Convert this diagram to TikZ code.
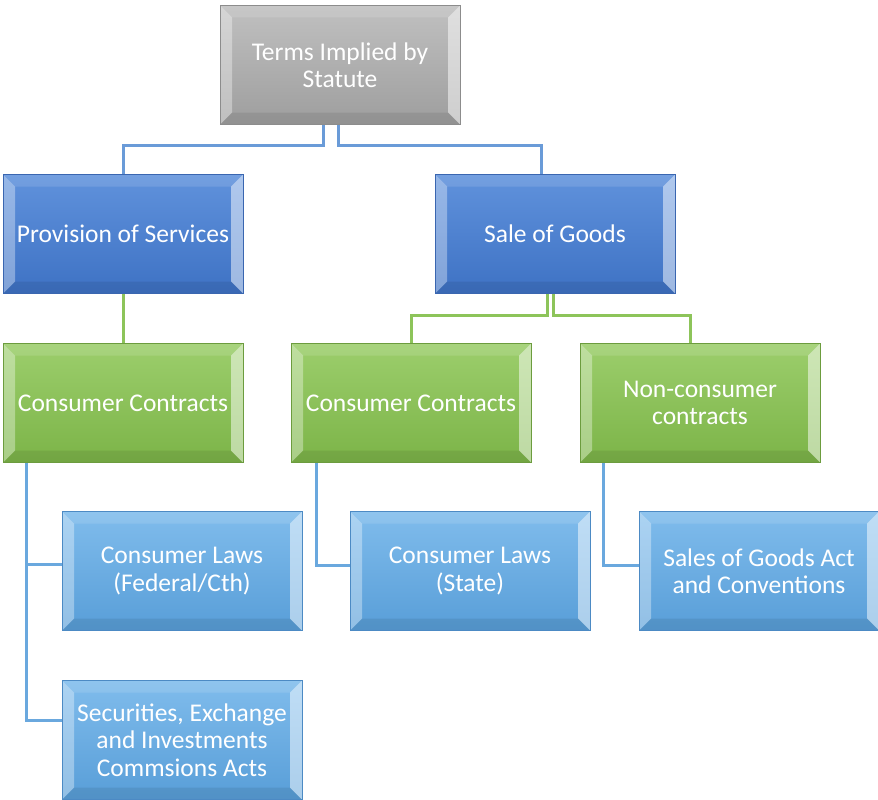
\documentclass[tikz,border=0pt]{standalone}
\usepackage{fontspec}
\setmainfont{Carlito}
\usetikzlibrary{positioning, calc}
\definecolor{TISGrayTop}{RGB}{192, 192, 192}
\definecolor{TISGrayBot}{RGB}{158, 158, 158}
\definecolor{TISGrayEdge}{RGB}{140, 140, 140}
\definecolor{TISBlueTop}{RGB}{96, 146, 220}
\definecolor{TISBlueBot}{RGB}{62, 114, 196}
\definecolor{TISBlueEdge}{RGB}{58, 102, 176}
\definecolor{TISGreenTop}{RGB}{156, 206, 108}
\definecolor{TISGreenBot}{RGB}{124, 180, 72}
\definecolor{TISGreenEdge}{RGB}{108, 156, 62}
\definecolor{TISSkyTop}{RGB}{128, 188, 236}
\definecolor{TISSkyBot}{RGB}{88, 158, 216}
\definecolor{TISSkyEdge}{RGB}{76, 138, 196}
\definecolor{TISLinkBlue}{RGB}{106, 155, 216}
\definecolor{TISLinkGreen}{RGB}{141, 196, 90}
\definecolor{TISLinkSky}{RGB}{106, 168, 222}

\begin{document}
\begin{tikzpicture}[x=1pt, y=-1pt,
    bevelbox/.style={rectangle, minimum width=240pt, minimum height=119pt,
      align=center, inner sep=0pt, text=white,
      font=\fontsize{25.5}{27.5}\selectfont, line width=0.8pt,
      path picture={
        \fill[white, opacity=.35] (path picture bounding box.north west) -- ++(12,12)
          -- ($(path picture bounding box.south west)+(12,-12)$) -- (path picture bounding box.south west) -- cycle;
        \fill[white, opacity=.5] (path picture bounding box.north east) -- ++(-12,12)
          -- ($(path picture bounding box.south east)+(-12,-12)$) -- (path picture bounding box.south east) -- cycle;
        \fill[black, opacity=.08] (path picture bounding box.south west) -- ++(12,-12)
          -- ($(path picture bounding box.south east)+(-12,-12)$) -- (path picture bounding box.south east) -- cycle;
        \fill[white, opacity=.12] (path picture bounding box.north west) -- ++(12,12)
          -- ($(path picture bounding box.north east)+(-12,12)$) -- (path picture bounding box.north east) -- cycle;
      }},
    graybox/.style={bevelbox, draw=TISGrayEdge, top color=TISGrayTop, bottom color=TISGrayBot},
    bluebox/.style={bevelbox, draw=TISBlueEdge, top color=TISBlueTop, bottom color=TISBlueBot},
    greenbox/.style={bevelbox, draw=TISGreenEdge, top color=TISGreenTop, bottom color=TISGreenBot},
    skybox/.style={bevelbox, draw=TISSkyEdge, top color=TISSkyTop, bottom color=TISSkyBot},
    link/.style={line width=3pt}]
    \path[use as bounding box] (0,0) rectangle (878,800);

    % boxes
    \node[graybox] (statute) at (340,65) {Terms Implied by\\Statute};
    \node[bluebox] (services) at (123,234) {Provision of Services};
    \node[bluebox] (goods) at (555,234) {Sale of Goods};
    \node[greenbox] (svcconsumer) at (123,403) {Consumer Contracts};
    \node[greenbox] (gdsconsumer) at (411,403) {Consumer Contracts};
    \node[greenbox] (nonconsumer) at (700,403) {Non-consumer\\contracts};
    \node[skybox] (federal) at (182,571) {Consumer Laws\\(Federal/Cth)};
    \node[skybox] (state) at (470,571) {Consumer Laws\\(State)};
    \node[skybox] (goodsact) at (759,571) {Sales of Goods Act\\and Conventions};
    \node[skybox] (securities) at (182,740) {Securities, Exchange\\and Investments\\Commsions Acts};

    % connectors
    \draw[link, TISLinkBlue] ([xshift=-17pt]statute.south) -- ++(0,21) -| (services.north);
    \draw[link, TISLinkBlue] ([xshift=-2pt]statute.south) -- ++(0,21) -| ([xshift=-14pt]goods.north);
    \draw[link, TISLinkGreen] (services.south) -- (svcconsumer.north);
    \draw[link, TISLinkGreen] ([xshift=-8pt]goods.south) -- ++(0,22) -| (gdsconsumer.north);
    \draw[link, TISLinkGreen] ([xshift=-2pt]goods.south) -- ++(0,22) -| ([xshift=-10pt]nonconsumer.north);
    \draw[link, TISLinkSky] ([xshift=-97pt]svcconsumer.south) |- ([yshift=7pt]federal.west);
    \draw[link, TISLinkSky] ([xshift=-97pt]svcconsumer.south) |- ([yshift=20pt]securities.west);
    \draw[link, TISLinkSky] ([xshift=-95pt]gdsconsumer.south) |- ([yshift=6pt]state.west);
    \draw[link, TISLinkSky] ([xshift=-97pt]nonconsumer.south) |- ([yshift=6pt]goodsact.west);
\end{tikzpicture}
\end{document}
